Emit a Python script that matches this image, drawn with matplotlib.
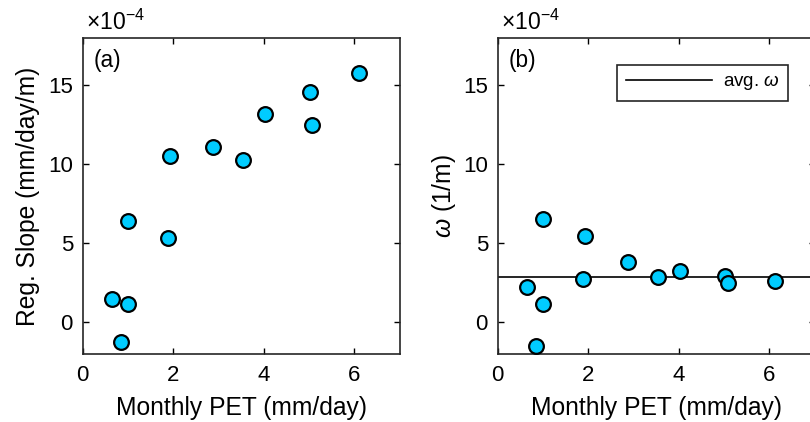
import numpy as np
import matplotlib
matplotlib.use("Agg")
import matplotlib.pyplot as plt

plt.rcParams['font.family'] = ['Liberation Sans', 'DejaVu Sans']
plt.rcParams['mathtext.fontset'] = 'custom'
plt.rcParams['mathtext.rm'] = 'Liberation Sans'
plt.rcParams['mathtext.it'] = 'Liberation Sans:italic'

# ---- data (values in units of 10^-4) ----
scale_exp = -4
pet = [0.65, 0.99, 0.84, 0.99, 1.885, 1.93, 2.89, 3.55, 4.03, 5.02, 5.07, 6.11]
reg_slope = [1.48, 1.18, -1.27, 6.42, 5.34, 10.55, 11.10, 10.30, 13.19, 14.60, 12.51, 15.76]
pet_b = [0.655, 0.99, 0.84, 0.99, 1.89, 1.93, 2.89, 3.55, 4.03, 5.03, 5.08, 6.12]
omega = [2.24, 1.18, -1.52, 6.52, 2.77, 5.49, 3.82, 2.89, 3.27, 2.91, 2.49, 2.64]
avg_omega = float(np.mean(omega))
xticks = [0, 2, 4, 6]
yticks = [0, 5, 10, 15]
panel_labels = ['(a)', '(b)']

W, H = 810, 422
fig = plt.figure(figsize=(W / 100, H / 100), dpi=100)
axw = 316.8 / W
axh = 316 / H
bottom = 68 / H
ax1 = fig.add_axes([82.7 / W, bottom, axw, axh])
ax2 = fig.add_axes([497.7 / W, bottom, axw, axh])

mk = dict(marker='o', linestyle='none', markersize=10.6,
          markerfacecolor='#00CCFF', markeredgecolor='black', markeredgewidth=1.6, zorder=3)

ax1.plot(pet, reg_slope, **mk)
ax2.axhline(avg_omega, color='black', lw=1.2, zorder=2, label=r'avg. $\omega$')
ax2.plot(pet_b, omega, **mk)

for ax, lab in zip([ax1, ax2], panel_labels):
    ax.set_xlim(0, 7)
    ax.set_ylim(-2, 18)
    ax.set_xticks(xticks)
    ax.set_yticks(yticks)
    ax.tick_params(direction='in', length=4.5, width=1.0, top=True, right=True,
                   labelsize=16)
    ax.tick_params(axis='x', pad=8)
    ax.tick_params(axis='y', pad=7)
    for s in ax.spines.values():
        s.set_linewidth(1.2)
        s.set_color('#262626')
    ax.set_xlabel('Monthly PET (mm/day)', fontsize=17.7, labelpad=7)
    ax.text(0.035, 0.965, lab, transform=ax.transAxes, fontsize=16.3, va='top', ha='left')
    ax.text(0.01, 1.01, r'$\times$10$^{%d}$' % scale_exp, transform=ax.transAxes,
            fontsize=16.5, ha='left', va='bottom')

ax1.set_ylabel('Reg. Slope (mm/day/m)', fontsize=17.7, labelpad=6)
ax2.set_ylabel(r'$\omega$ (1/m)', fontsize=17.7, labelpad=4)

leg = ax2.legend(loc='upper right', bbox_to_anchor=(0.917, 0.915), borderaxespad=0,
                 fancybox=False, edgecolor='#262626', framealpha=1, fontsize=13.5,
                 handlelength=4.6, handletextpad=0.6, borderpad=0.45)
leg.get_frame().set_linewidth(1.2)

fig.savefig('out.png', dpi=100)
